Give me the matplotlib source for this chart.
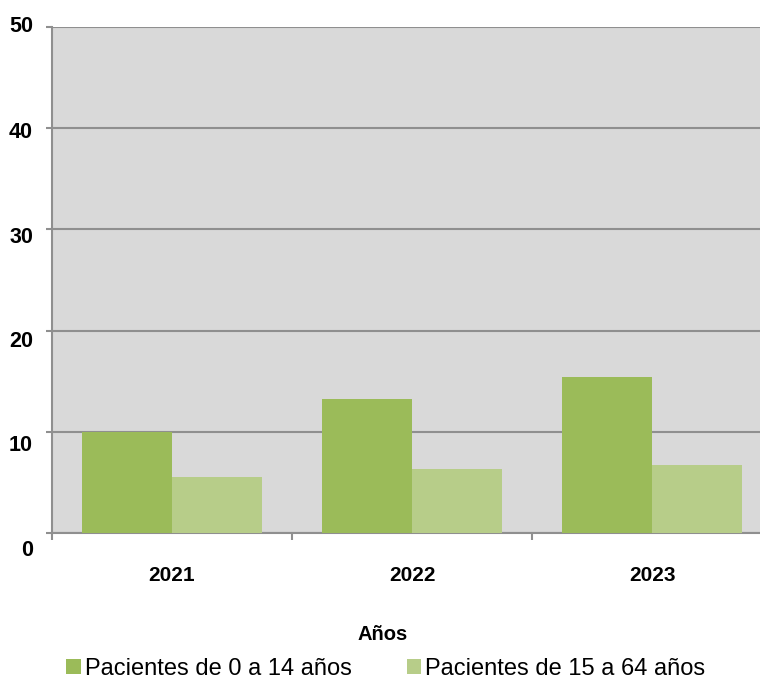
import numpy as np
import matplotlib.pyplot as plt
from matplotlib.transforms import ScaledTranslation

plt.rcParams['font.family'] = ['Liberation Sans', 'DejaVu Sans']

years = ['2021', '2022', '2023']
pacientes_0_14 = [10.0, 13.25, 15.4]
pacientes_15_64 = [5.5, 6.3, 6.7]
series_labels = ['Pacientes de 0 a 14 años', 'Pacientes de 15 a 64 años']
y_ticks = [0, 10, 20, 30, 40, 50]

dark_green = '#9bbb59'
light_green = '#b7cd89'
grid_gray = '#8f8f8f'

fig = plt.figure(figsize=(7.6, 6.82), dpi=100)
ax = fig.add_axes([52 / 760, 149 / 682, 720 / 760, 506 / 682])
ax.set_facecolor('#d9d9d9')

x = np.arange(len(years))
w = 0.375
ax.bar(x - w, pacientes_0_14, w, align='edge', color=dark_green,
       label=series_labels[0], zorder=3)
ax.bar(x, pacientes_15_64, w, align='edge', color=light_green,
       label=series_labels[1], zorder=3)

ax.set_xlim(-0.5, len(years) - 0.5)
ax.set_ylim(0, 50)
ax.set_yticks(y_ticks)
ax.set_yticklabels([])
ax.yaxis.grid(True, color=grid_gray, linewidth=1.5, zorder=1)
ax.set_axisbelow(True)

# y labels drawn by hand: in the original they drift lower toward the bottom
shifts = [17, 14, 11, 8, 4, 0]
for v, dy in zip(y_ticks, shifts):
    tr = ax.get_yaxis_transform() + ScaledTranslation(-19 / 100, -dy / 100,
                                                      fig.dpi_scale_trans)
    ax.text(0, v, str(v), transform=tr, ha='right', va='center',
            fontsize=15.5, fontweight='bold')

ax.set_xticks(x)
ax.set_xticklabels(years, fontsize=15, fontweight='bold')
ax.set_xticks(np.arange(len(years) + 1) - 0.5, minor=True)
ax.tick_params(axis='x', which='major', length=0, pad=24)
ax.tick_params(axis='x', which='minor', length=5, width=1.5, color=grid_gray)
ax.tick_params(axis='y', length=4.5, width=1.5, color=grid_gray)

for side in ['top', 'right']:
    ax.spines[side].set_visible(False)
for side in ['left', 'bottom']:
    ax.spines[side].set_color(grid_gray)
    ax.spines[side].set_linewidth(1.5)

fig.text(383 / 760, 1 - 634 / 682, 'Años', ha='center', va='center',
         fontsize=14.5, fontweight='bold')

fig.legend(loc='center', bbox_to_anchor=(386 / 760, 1 - 669 / 682), ncol=2,
           frameon=False, fontsize=17, handlelength=0.6, handleheight=0.6,
           handletextpad=0.2, columnspacing=2.3, borderaxespad=0, borderpad=0)

fig.savefig('out.png', dpi=100)
